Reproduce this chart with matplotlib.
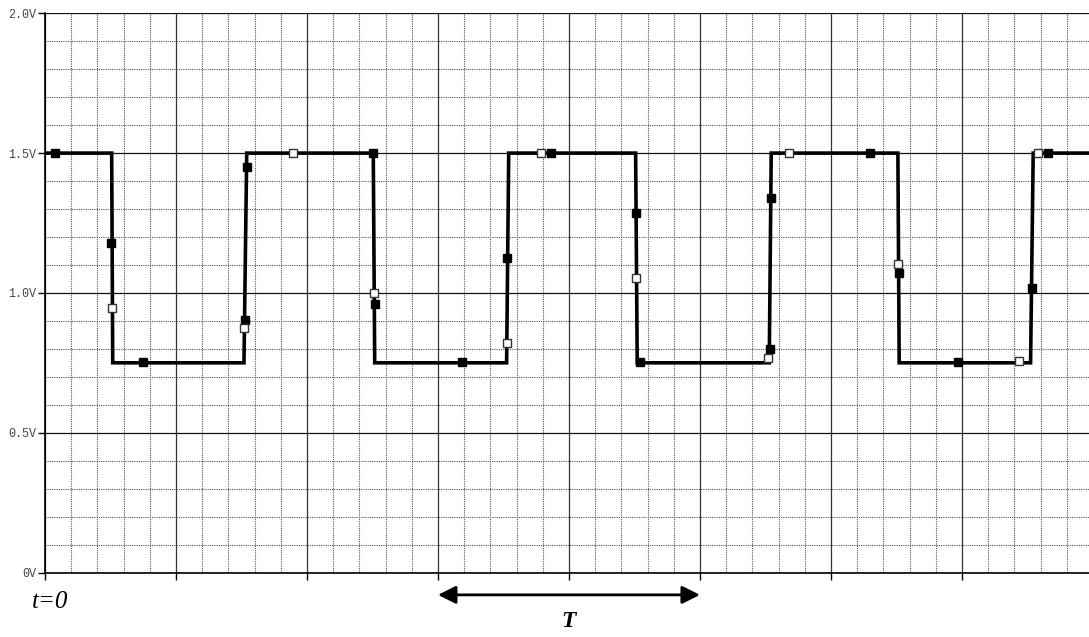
import numpy as np
import matplotlib
matplotlib.use("Agg")
import matplotlib.pyplot as plt
from matplotlib.ticker import MultipleLocator

# === Waveform (time in grid divisions, volts) ===
V_HIGH = 1.5
V_LOW = 0.75
fall_start = [0.509, 2.506, 4.509, 6.511]
fall_end = [0.517, 2.517, 4.521, 6.521]
rise_start = [1.519, 3.524, 5.529, 7.524]
rise_end = [1.540, 3.540, 5.544, 7.544]
t_end = 7.97

# === Sample markers ===
filled_t = [0.076, 0.506, 0.746, 1.540, 1.527, 2.506, 2.517, 3.181, 3.529, 3.865,
            4.511, 4.542, 5.540, 5.534, 6.298, 6.519, 6.972, 7.532, 7.654]
filled_v = [1.500, 1.177, 0.752, 1.449, 0.903, 1.500, 0.961, 0.752, 1.124, 1.500,
            1.284, 0.752, 1.339, 0.799, 1.500, 1.070, 0.752, 1.017, 1.500]
open_t = [0.509, 1.522, 1.891, 2.511, 3.524, 3.789, 4.511, 5.522, 5.682, 6.514, 7.437, 7.578]
open_v = [0.947, 0.873, 1.500, 0.999, 0.821, 1.500, 1.053, 0.767, 1.500, 1.105, 0.755, 1.500]

y_ticks = [0.0, 0.5, 1.0, 1.5, 2.0]
y_labels = ["0V", "0.5V", "1.0V", "1.5V", "2.0V"]

# build the polyline
trace_t = [0.0]
trace_v = [V_HIGH]
for fs, fe, rs, re in zip(fall_start, fall_end, rise_start, rise_end):
    trace_t += [fs, fe, rs, re]
    trace_v += [V_HIGH, V_LOW, V_LOW, V_HIGH]
trace_t.append(t_end)
trace_v.append(V_HIGH)

fig = plt.figure(figsize=(10.89, 6.37), dpi=100)
ax = fig.add_axes([45 / 1089, 64.5 / 637, 1 - 45 / 1089, (572.5 - 13.3) / 637])

ax.set_xlim(0, t_end)
ax.set_ylim(0, 2.0)

# grid
ax.xaxis.set_major_locator(MultipleLocator(1))
ax.xaxis.set_minor_locator(MultipleLocator(0.2))
ax.yaxis.set_major_locator(MultipleLocator(0.5))
ax.yaxis.set_minor_locator(MultipleLocator(0.1))
ax.grid(which="minor", color="#555555", linestyle=(0, (1, 1)), linewidth=0.8)
ax.grid(which="major", axis="y", color="#111111", linestyle="-", linewidth=0.9)
ax.grid(which="major", axis="x", color="#333333", linestyle="-", linewidth=0.9)
ax.set_axisbelow(True)

for side in ["top", "right"]:
    ax.spines[side].set_visible(False)
ax.spines["left"].set_linewidth(1.2)
ax.spines["bottom"].set_linewidth(1.2)

ax.set_yticks(y_ticks)
ax.set_yticklabels(y_labels, family="Liberation Mono", fontsize=8.5, color="#444444")
ax.tick_params(axis="y", which="major", length=5, width=1, direction="out", pad=1)
ax.tick_params(axis="x", which="major", length=5, width=1, direction="out", labelbottom=False)
ax.tick_params(which="minor", length=0)

# trace + markers
ax.plot(trace_t, trace_v, color="black", linewidth=2.6, solid_joinstyle="miter", zorder=3)
ax.plot(filled_t, filled_v, linestyle="none", marker="s", markersize=5.5,
        markerfacecolor="black", markeredgecolor="black", zorder=4)
ax.plot(open_t, open_v, linestyle="none", marker="s", markersize=5.5,
        markerfacecolor="white", markeredgecolor="#333333", markeredgewidth=1, zorder=5)

# annotations below the axis
ax.annotate("", xy=(3.0, -0.08), xytext=(5.0, -0.08), xycoords="data",
            arrowprops=dict(arrowstyle="<|-|>,head_length=0.6,head_width=0.3",
                            color="black", lw=2, mutation_scale=18,
                            shrinkA=0, shrinkB=0),
            annotation_clip=False)
ax.text(4.0, -0.175, "T", ha="center", va="center", fontsize=17,
        family="Liberation Serif", style="italic", weight="bold", clip_on=False)
ax.text(0.04, -0.105, "t=0", ha="center", va="center", fontsize=18,
        family="Liberation Serif", style="italic", clip_on=False)

fig.savefig("out.png", dpi=100)
